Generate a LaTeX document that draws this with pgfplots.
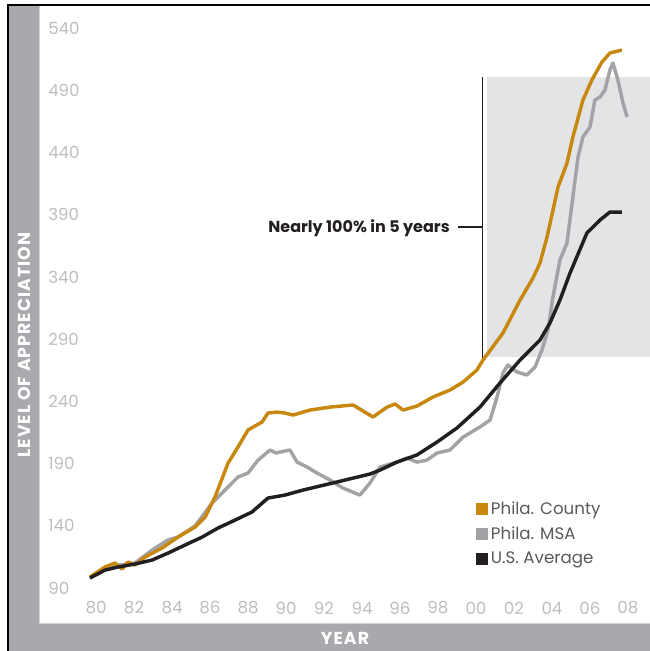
\documentclass[border=0pt]{standalone}
\usepackage{fontspec}
\setmainfont{Poppins}
\usepackage{pgfplots}
\pgfplotsset{compat=1.18}

\definecolor{county}{HTML}{C8870F}
\definecolor{msa}{HTML}{A2A3A6}
\definecolor{usavg}{HTML}{231F20}
\definecolor{band}{HTML}{A7A9AC}
\definecolor{bandedge}{HTML}{D1D3D4}
\definecolor{boxgray}{HTML}{E3E4E6}
\definecolor{ticktext}{HTML}{BDBEC0}
\definecolor{legtext}{HTML}{58595B}

% index level (x = year)
\pgfplotstableread{
year val
1979.68 98.8
1980.47 106.9
1981.00 110.1
1981.37 105.3
1981.68 110.9
1982.05 108.5
1982.58 114.9
1983.47 122.1
1984.32 131.0
1985.21 139.0
1985.74 147.0
1986.26 163.1
1986.95 190.4
1987.47 203.3
1988.00 217.0
1988.74 223.4
1989.05 230.6
1989.53 231.4
1989.95 230.6
1990.37 229.0
1991.26 233.0
1992.32 235.4
1993.53 237.1
1994.58 227.4
1995.32 235.4
1995.74 237.9
1996.16 233.0
1996.89 236.2
1997.74 243.5
1998.63 249.1
1999.32 255.5
2000.05 265.2
2000.37 273.2
2001.42 294.9
2002.32 321.4
2003.00 339.1
2003.37 351.2
2003.74 372.0
2004.32 412.2
2004.79 431.5
2005.10 452.4
2005.63 482.1
2006.10 498.2
2006.63 512.7
2007.05 519.9
2007.68 522.3
}\county

\pgfplotstableread{
year val
1979.68 98.8
1980.47 106.1
1981.26 108.5
1982.05 110.1
1982.95 120.5
1983.79 128.6
1984.32 131.0
1985.21 139.8
1986.11 158.3
1986.79 168.7
1987.47 179.2
1988.00 182.4
1988.53 192.8
1989.16 200.9
1989.47 198.5
1989.95 200.1
1990.21 200.9
1990.58 191.2
1991.11 187.2
1991.63 182.4
1992.32 176.8
1993.00 170.3
1993.89 164.7
1994.42 174.4
1994.95 187.2
1995.84 191.2
1996.37 194.5
1996.89 191.2
1997.42 192.8
1997.95 198.5
1998.63 200.9
1999.32 211.3
2000.21 219.4
2000.74 225.0
2001.11 243.5
2001.42 262.8
2001.68 269.2
2002.16 263.6
2002.68 261.2
2003.11 267.6
2003.47 281.2
2003.79 297.3
2004.05 323.8
2004.42 353.6
2004.79 367.2
2005.10 404.2
2005.37 436.3
2005.63 452.4
2006.00 460.4
2006.26 482.1
2006.53 484.6
2006.79 490.2
2007.05 506.2
2007.21 511.9
2007.47 498.2
2007.74 479.7
2007.95 468.5
}\msa

\pgfplotstableread{
year val
1979.68 98.0
1980.47 104.4
1981.16 106.9
1982.05 109.3
1982.95 112.5
1983.79 118.1
1984.68 124.5
1985.58 130.9
1986.42 138.2
1987.32 144.6
1988.21 151.1
1989.05 162.3
1989.95 164.7
1990.89 168.7
1992.68 175.2
1994.42 181.6
1994.95 184.8
1995.84 191.2
1996.89 196.9
1997.95 207.3
1999.00 218.6
2000.21 235.4
2001.26 254.7
2002.32 273.2
2003.37 289.3
2003.89 302.9
2004.42 321.4
2004.95 343.1
2005.84 375.3
2006.53 385.7
2007.05 392.1
2007.68 392.1
}\usavg

\begin{document}
\begin{tikzpicture}
\begin{axis}[
    scale only axis,
    width=457.5pt, height=463.5pt,
    xmin=1977.05, xmax=2009.16,
    ymin=61.9, ymax=558.5,
    axis line style={draw=none},
    major tick length=0pt,
    tick style={draw=none},
    xtick={1980,1982,...,2008},
    xticklabels={80,82,84,86,88,90,92,94,96,98,00,02,04,06,08},
    ytick={90,140,...,540},
    /pgf/number format/assume math mode=true,
    xticklabel style={anchor=center, yshift=11.25pt, text=ticktext,
        font=\fontsize{12.5}{14}\selectfont},
    yticklabel style={anchor=west, inner sep=0pt, xshift=6pt, text=ticktext,
        font=\fontsize{12.5}{14}\selectfont},
    legend style={at={(0.7148,0.2015)}, anchor=north west, draw=none, fill=none,
        inner sep=0pt, row sep=4pt, text=legtext,
        font=\fontsize{12.5}{14}\selectfont},
    legend cell align=left,
    legend image code/.code={\fill[#1,draw=none] (0pt,-4.5pt) rectangle (9pt,4.5pt);},
]
\fill[boxgray] (axis cs:2000.58,275.6) rectangle (axis cs:2009.16,500.6);
\draw[usavg, line width=0.8pt] (axis cs:2000.32,500.6) -- (axis cs:2000.32,274.8);
\draw[usavg, line width=0.8pt] (axis cs:1999.05,380.1) -- (axis cs:2000.32,380.1);
\node[anchor=base east, inner sep=0pt, text=usavg,
    font=\bfseries\fontsize{12}{14}\selectfont]
    at (axis cs:1998.63,375.3) {Nearly 100\% in 5 years};

\addlegendimage{county}
\addlegendentry{Phila. County}
\addlegendimage{msa}
\addlegendentry{Phila. MSA}
\addlegendimage{usavg}
\addlegendentry{U.S. Average}

\addplot[msa, line width=2.6pt, line join=round, forget plot] table[x=year,y=val] {\msa};
\addplot[county, line width=2.6pt, line join=round, forget plot] table[x=year,y=val] {\county};
\addplot[usavg, line width=2.6pt, line join=round, forget plot] table[x=year,y=val] {\usavg};
\end{axis}

% frame bands and axis titles
\fill[band] (-24pt,-21pt) rectangle (0pt,463.5pt);
\fill[band] (-24pt,-21pt) rectangle (457.5pt,0pt);
\draw[bandedge, line width=1pt] (-0.5pt,463.5pt) -- (-0.5pt,-0.5pt) -- (457.5pt,-0.5pt);
\draw[black, line width=1pt] (-24pt,-21pt) -- (-24pt,463.5pt) -- (457.5pt,463.5pt);
\node[rotate=90, text=white,
    font=\bfseries\fontsize{13}{14}\selectfont\addfontfeature{LetterSpace=6}]
    at (-12pt,208.5pt) {LEVEL OF APPRECIATION};
\node[text=white,
    font=\bfseries\fontsize{13}{14}\selectfont\addfontfeature{LetterSpace=6}]
    at (228.75pt,-11.25pt) {YEAR};

\pgfresetboundingbox
\path (-30pt,-21pt) rectangle (457.5pt,467.25pt);
\end{tikzpicture}
\end{document}
